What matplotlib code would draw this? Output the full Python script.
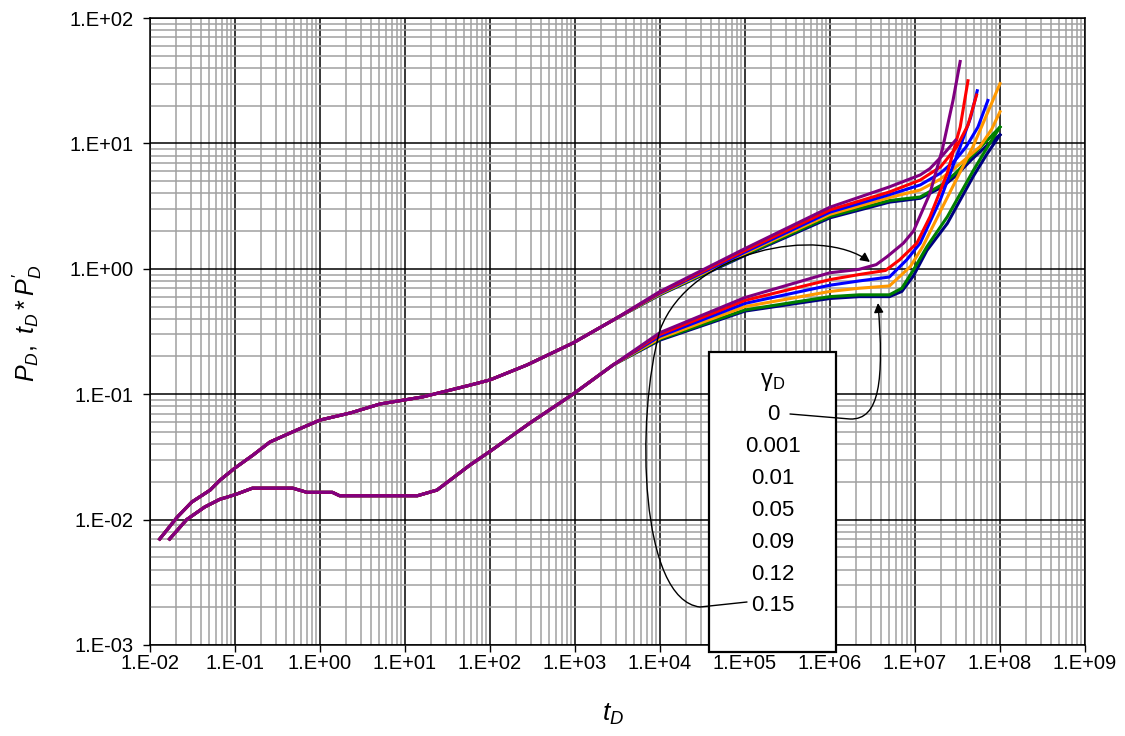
import matplotlib
matplotlib.use("Agg")
import matplotlib.pyplot as plt
import numpy as np
from matplotlib.path import Path
from matplotlib.patches import FancyArrowPatch, Rectangle
from matplotlib.ticker import LogLocator, FuncFormatter

plt.rcParams['font.family'] = ['Liberation Sans', 'DejaVu Sans']
plt.rcParams['mathtext.fontset'] = 'custom'
plt.rcParams['mathtext.rm'] = 'Liberation Sans'
plt.rcParams['mathtext.it'] = 'Liberation Sans:italic'

# valores de gamma_D mostrados en el recuadro
gammas = ['0', '0.001', '0.01', '0.05', '0.09', '0.12', '0.15']
colores = ['#000080', '#008000', '#FF9900', '#0000FF', '#FF0000', '#800080']

# tramo inicial comun - presion adimensional
t_p_ini = [0.013, 0.021, 0.031, 0.051, 0.067, 0.1, 0.163, 0.258, 0.537, 1.0, 2.3, 5.1, 16, 58, 100, 272, 946]
p_ini = [0.007, 0.0105, 0.0138, 0.0172, 0.0207, 0.0258, 0.0327, 0.0416, 0.0519, 0.0622, 0.071, 0.0836, 0.095, 0.118, 0.13, 0.171, 0.256]

# tramo inicial comun - derivada
t_d_ini = [0.017, 0.027, 0.044, 0.066, 0.1, 0.16, 0.48, 0.7, 1.4, 1.7, 14, 23.8, 58, 100, 296, 946]
d_ini = [0.007, 0.010, 0.0126, 0.0145, 0.0158, 0.0178, 0.0178, 0.0165, 0.0165, 0.0155, 0.0155, 0.0172, 0.0272, 0.035, 0.059, 0.10]

# tramos finales de presion por curva (navy, green, orange, blue, red, purple)
t_p_fin = [
    [3e3, 1e4, 1e5, 1e6, 5e6, 1.15e7, 2.1e7, 3.1e7, 4.6e7, 7e7, 1e8],
    [3e3, 1e4, 1e5, 1e6, 5e6, 1.15e7, 2.1e7, 3.1e7, 4.6e7, 7e7, 1e8],
    [3e3, 1e4, 1e5, 1e6, 5e6, 1.15e7, 2e7, 3.5e7, 5.8e7, 8e7, 1e8],
    [3e3, 1e4, 1e5, 1e6, 5e6, 1.15e7, 2e7, 3e7, 4e7, 5.5e7, 7.2e7],
    [3e3, 1e4, 1e5, 1e6, 5e6, 1.15e7, 2e7, 3.1e7, 4.2e7, 5.3e7],
    [3e3, 1e4, 1e5, 1e6, 5e6, 1.15e7, 1.5e7, 2.1e7, 3e7],
]
p_fin = [
    [0.40, 0.62, 1.28, 2.55, 3.4, 3.65, 4.5, 5.6, 7.4, 9.6, 11.7],
    [0.40, 0.625, 1.30, 2.62, 3.5, 3.74, 4.7, 5.9, 7.9, 10.5, 13.5],
    [0.40, 0.63, 1.33, 2.72, 3.7, 4.25, 5.2, 7.0, 9.4, 13.0, 17.9],
    [0.40, 0.64, 1.36, 2.83, 3.9, 4.66, 5.8, 7.4, 9.4, 13.5, 22.0],
    [0.40, 0.65, 1.40, 2.95, 4.1, 5.1, 6.5, 9.4, 14.0, 24.3],
    [0.40, 0.66, 1.45, 3.10, 4.5, 5.6, 6.3, 8.0, 10.6],
]

# tramos finales de la derivada por curva
t_d_fin = [
    [2.8e3, 1e4, 1e5, 1e6, 2.2e6, 5e6, 7e6, 9.6e6, 1.38e7, 2.4e7, 4.8e7, 7e7, 1e8],
    [2.8e3, 1e4, 1e5, 1e6, 2.2e6, 5e6, 7e6, 9.6e6, 1.38e7, 2.4e7, 4.8e7, 7e7, 1e8],
    [2.8e3, 1e4, 1e5, 1e6, 2.2e6, 5e6, 8.8e6, 1.23e7, 2.2e7, 4.8e7, 7e7, 1e8],
    [2.8e3, 1e4, 1e5, 1e6, 2.2e6, 5e6, 8e6, 1.15e7, 2e7, 3.4e7, 4.5e7, 5.4e7],
    [2.8e3, 1e4, 1e5, 1e6, 2.2e6, 4.5e6, 6.6e6, 1.05e7, 1.5e7, 2.4e7, 3.4e7, 4.2e7],
    [2.8e3, 1e4, 1e5, 1e6, 2.2e6, 3.5e6, 4.7e6, 7.3e6, 9.6e6, 1.5e7, 2.1e7, 2.8e7, 3.4e7],
]
d_fin = [
    [0.171, 0.27, 0.46, 0.58, 0.60, 0.60, 0.66, 0.88, 1.4, 2.3, 5.4, 8.2, 11.7],
    [0.171, 0.275, 0.47, 0.60, 0.62, 0.62, 0.70, 0.98, 1.5, 2.6, 6.0, 9.2, 13.5],
    [0.171, 0.28, 0.50, 0.66, 0.70, 0.73, 1.04, 1.5, 3.3, 9.4, 17.0, 30.0],
    [0.171, 0.29, 0.53, 0.74, 0.80, 0.86, 1.18, 1.6, 3.6, 9.4, 16.0, 26.3],
    [0.171, 0.30, 0.56, 0.82, 0.90, 0.97, 1.18, 1.6, 2.6, 5.8, 13.5, 31.6],
    [0.171, 0.31, 0.59, 0.93, 0.99, 1.08, 1.25, 1.6, 2.0, 4.0, 9.0, 22.0, 45.0],
]

fig = plt.figure(figsize=(11.25, 7.36), dpi=100)
ax = fig.add_axes([150/1125, 1-645/736, 935/1125, 627/736])

for i, c in enumerate(colores):
    ax.plot(t_p_ini + t_p_fin[i], p_ini + p_fin[i], color=c, lw=2.2, zorder=3+i)
    ax.plot(t_d_ini + t_d_fin[i], d_ini + d_fin[i], color=c, lw=2.2, zorder=3+i)

ax.set_xscale('log')
ax.set_yscale('log')
ax.set_xlim(1e-2, 1e9)
ax.set_ylim(1e-3, 1e2)

fmt = FuncFormatter(lambda v, _: '1.E%+03d' % int(round(np.log10(v))))
for eje in (ax.xaxis, ax.yaxis):
    eje.set_major_locator(LogLocator(base=10, numticks=20))
    eje.set_minor_locator(LogLocator(base=10, subs=np.arange(2, 10), numticks=20))
    eje.set_major_formatter(fmt)
ax.tick_params(which='major', direction='out', length=5, width=1, labelsize=14.5)
ax.tick_params(axis='x', which='major', pad=1.5)
ax.tick_params(axis='y', which='major', pad=7)
ax.tick_params(which='minor', length=0)
ax.grid(which='minor', color='#a0a0a0', lw=1.1)
ax.grid(which='major', color='black', lw=1.1)
ax.set_axisbelow(True)
for s in ax.spines.values():
    s.set_color('black')
    s.set_linewidth(1.1)

ax.set_xlabel(r'$t_D$', fontsize=19)
ax.set_ylabel(r'$P_D,\ t_D * P^{\prime}_D$', fontsize=18)
ax.xaxis.set_label_coords((613-150)/935, (645-702)/627)
ax.yaxis.set_label_coords((44-150)/935, (645-323)/627)

# recuadro con los valores de gamma
fig.patches.append(Rectangle((709/1125, 1-652/736), 127/1125, 300/736,
                             transform=fig.transFigure, facecolor='white',
                             edgecolor='black', lw=1.6, zorder=5))
fig.text(773/1125, 1-382/736, r'$\mathrm{γ}_{\mathrm{D}}$', ha='center', va='center',
         fontsize=17, zorder=7)
for k, g in enumerate(gammas):
    fig.text(773/1125, 1-(415+31.8*k)/736, g, ha='center', va='center',
             fontsize=16, zorder=7)

def px(x, y):
    return (x/1125, 1-y/736)

# flechas
ruta0 = Path([px(790, 414), px(850, 419), px(880, 420), px(884, 380), px(878, 303)],
             [Path.MOVETO, Path.LINETO, Path.CURVE4, Path.CURVE4, Path.CURVE4])
ruta15 = Path([px(747, 602), px(700, 607), px(640, 600), px(635, 420), px(660, 330),
               px(690, 250), px(820, 225), px(870, 262)],
              [Path.MOVETO, Path.LINETO, Path.CURVE4, Path.CURVE4, Path.CURVE4,
               Path.CURVE4, Path.CURVE4, Path.CURVE4])
for r in (ruta0, ruta15):
    fig.patches.append(FancyArrowPatch(path=r, transform=fig.transFigure,
                                       arrowstyle='-|>', mutation_scale=14,
                                       color='black', lw=1.0, zorder=6))

fig.savefig('out.png', dpi=100)
